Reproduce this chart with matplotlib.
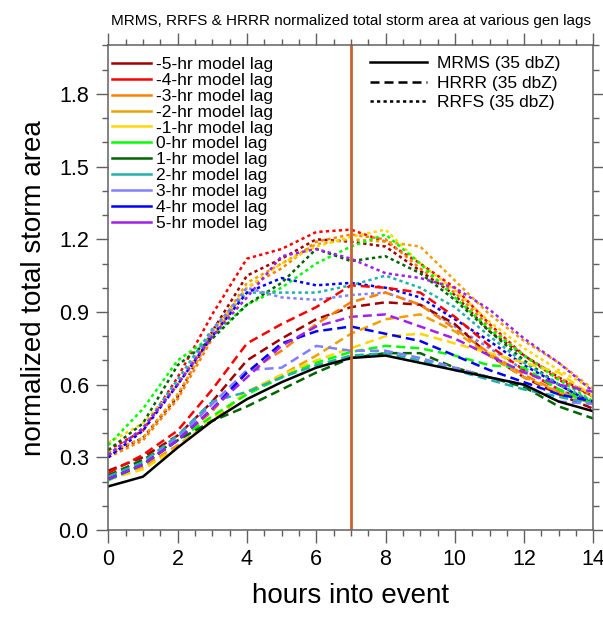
import matplotlib
matplotlib.use("Agg")
import matplotlib.pyplot as plt
from matplotlib.lines import Line2D
from matplotlib.ticker import MultipleLocator
import numpy as np

plt.rcParams['font.family'] = ['Liberation Sans', 'DejaVu Sans']

hours = list(range(15))

lag_labels = ["-5-hr model lag", "-4-hr model lag", "-3-hr model lag", "-2-hr model lag",
              "-1-hr model lag", "0-hr model lag", "1-hr model lag", "2-hr model lag",
              "3-hr model lag", "4-hr model lag", "5-hr model lag"]
lag_colors = ["#a00000", "#ff0000", "#ff8000", "#f0a000", "#ffd700", "#00ff00",
              "#006400", "#20b2aa", "#8080ff", "#0000ff", "#a020f0"]

mrms = [0.18, 0.22, 0.34, 0.45, 0.54, 0.61, 0.67, 0.71, 0.72, 0.69, 0.66, 0.63, 0.60, 0.53, 0.49]

hrrr_m5 = [0.245, 0.30, 0.39, 0.53, 0.70, 0.79, 0.87, 0.92, 0.94, 0.93, 0.85, 0.72, 0.63, 0.56, 0.50]
hrrr_m4 = [0.235, 0.31, 0.41, 0.58, 0.77, 0.85, 0.92, 1.01, 1.00, 0.98, 0.88, 0.76, 0.66, 0.58, 0.52]
hrrr_m3 = [0.21, 0.27, 0.37, 0.49, 0.65, 0.74, 0.85, 0.94, 0.98, 0.93, 0.83, 0.73, 0.64, 0.57, 0.52]
hrrr_m2 = [0.21, 0.26, 0.35, 0.45, 0.57, 0.64, 0.72, 0.81, 0.87, 0.89, 0.82, 0.72, 0.63, 0.57, 0.52]
hrrr_m1 = [0.21, 0.25, 0.34, 0.46, 0.57, 0.64, 0.70, 0.75, 0.80, 0.81, 0.77, 0.73, 0.69, 0.65, 0.55]
hrrr_p0 = [0.205, 0.27, 0.37, 0.47, 0.56, 0.63, 0.69, 0.735, 0.76, 0.75, 0.72, 0.68, 0.67, 0.58, 0.52]
hrrr_p1 = [0.225, 0.29, 0.37, 0.45, 0.51, 0.58, 0.65, 0.71, 0.73, 0.73, 0.67, 0.63, 0.59, 0.51, 0.46]
hrrr_p2 = [0.22, 0.28, 0.39, 0.53, 0.57, 0.63, 0.68, 0.72, 0.73, 0.70, 0.66, 0.62, 0.58, 0.55, 0.52]
hrrr_p3 = [0.21, 0.27, 0.38, 0.52, 0.66, 0.67, 0.76, 0.74, 0.74, 0.71, 0.67, 0.63, 0.60, 0.53, 0.52]
hrrr_p4 = [0.21, 0.27, 0.37, 0.50, 0.65, 0.77, 0.82, 0.84, 0.81, 0.78, 0.72, 0.66, 0.61, 0.56, 0.53]
hrrr_p5 = [0.21, 0.27, 0.37, 0.50, 0.63, 0.76, 0.84, 0.88, 0.89, 0.84, 0.79, 0.72, 0.65, 0.60, 0.57]

rrfs_m5 = [0.31, 0.38, 0.55, 0.82, 1.05, 1.12, 1.20, 1.19, 1.17, 1.07, 0.97, 0.82, 0.72, 0.63, 0.55]
rrfs_m4 = [0.33, 0.41, 0.63, 0.89, 1.12, 1.16, 1.23, 1.24, 1.19, 1.10, 1.00, 0.85, 0.72, 0.62, 0.55]
rrfs_m3 = [0.30, 0.37, 0.54, 0.79, 1.00, 1.08, 1.19, 1.22, 1.20, 1.08, 0.98, 0.84, 0.72, 0.63, 0.55]
rrfs_m2 = [0.32, 0.38, 0.56, 0.80, 1.02, 1.10, 1.18, 1.20, 1.19, 1.17, 1.03, 0.89, 0.78, 0.69, 0.58]
rrfs_m1 = [0.36, 0.44, 0.60, 0.82, 1.00, 1.10, 1.17, 1.21, 1.24, 1.10, 0.99, 0.86, 0.75, 0.66, 0.58]
rrfs_p0 = [0.35, 0.50, 0.70, 0.80, 0.93, 1.00, 1.10, 1.17, 1.22, 1.10, 0.96, 0.83, 0.72, 0.62, 0.53]
rrfs_p1 = [0.33, 0.44, 0.68, 0.79, 0.93, 1.02, 1.16, 1.11, 1.13, 1.06, 0.95, 0.82, 0.70, 0.60, 0.52]
rrfs_p2 = [0.31, 0.42, 0.62, 0.83, 0.98, 0.98, 0.98, 1.01, 1.05, 1.00, 0.92, 0.80, 0.69, 0.60, 0.53]
rrfs_p3 = [0.31, 0.42, 0.60, 0.82, 1.00, 0.96, 0.95, 0.97, 0.98, 0.93, 0.84, 0.75, 0.66, 0.58, 0.52]
rrfs_p4 = [0.30, 0.41, 0.60, 0.80, 0.98, 1.04, 1.01, 1.02, 1.00, 0.96, 0.87, 0.78, 0.68, 0.60, 0.52]
rrfs_p5 = [0.31, 0.42, 0.60, 0.80, 0.96, 1.13, 1.16, 1.12, 1.06, 1.04, 1.00, 0.91, 0.79, 0.69, 0.57]

hrrr = [hrrr_m5, hrrr_m4, hrrr_m3, hrrr_m2, hrrr_m1, hrrr_p0, hrrr_p1, hrrr_p2, hrrr_p3, hrrr_p4, hrrr_p5]
rrfs = [rrfs_m5, rrfs_m4, rrfs_m3, rrfs_m2, rrfs_m1, rrfs_p0, rrfs_p1, rrfs_p2, rrfs_p3, rrfs_p4, rrfs_p5]

event_hour = 7
title = "MRMS, RRFS & HRRR normalized total storm area at various gen lags"

DASH = (0, (3.6, 2.0))
DOT = (0, (1.3, 1.3))
LW = 1.8

fig = plt.figure(figsize=(6.03, 6.19), dpi=100)
ax = fig.add_axes([0.1796, 0.1438, 0.8046, 0.7827])

for vals, c in zip(rrfs, lag_colors):
    ax.plot(hours, vals, color=c, lw=LW, linestyle=DOT)
for vals, c in zip(hrrr, lag_colors):
    ax.plot(hours, vals, color=c, lw=LW, linestyle=DASH)
ax.plot(hours, mrms, color="black", lw=LW, linestyle="-")
ax.axvline(event_hour, color="#c8642d", lw=2.0)

ax.set_xlim(0, 14)
ax.set_ylim(0, 2.0)
ax.xaxis.set_major_locator(MultipleLocator(2))
ax.xaxis.set_minor_locator(MultipleLocator(0.5))
ax.yaxis.set_major_locator(MultipleLocator(0.3))
ax.yaxis.set_minor_locator(MultipleLocator(0.1))
ax.yaxis.set_major_formatter(plt.FuncFormatter(lambda v, p: f"{v:.1f}"))

spine_c = "#606060"
for s in ax.spines.values():
    s.set_color(spine_c)
    s.set_linewidth(1.1)
ax.tick_params(which="both", direction="out", top=True, right=True, color=spine_c, width=1.0)
ax.tick_params(which="major", length=9, labelsize=15.5, pad=5)
ax.tick_params(which="minor", length=4)

ax.set_xlabel("hours into event", fontsize=20, labelpad=9)
ax.set_ylabel("normalized total storm area", fontsize=20, labelpad=8)
ax.set_title(title, fontsize=11, pad=15)

h1 = [Line2D([], [], color=c, lw=LW) for c in lag_colors]
leg1 = ax.legend(h1, lag_labels, loc="upper left", bbox_to_anchor=(0.007, 0.977),
                 frameon=False, fontsize=12.5, handlelength=2.25, handletextpad=0.28,
                 labelspacing=0.045, borderpad=0, borderaxespad=0)
ax.add_artist(leg1)

h2 = [Line2D([], [], color="black", lw=LW, linestyle="-"),
      Line2D([], [], color="black", lw=LW, linestyle=DASH),
      Line2D([], [], color="black", lw=LW, linestyle=DOT)]
ax.legend(h2, ["MRMS (35 dbZ)", "HRRR (35 dbZ)", "RRFS (35 dbZ)"], loc="upper left",
          bbox_to_anchor=(0.539, 0.978), frameon=False, fontsize=12.5, handlelength=3.3,
          handletextpad=0.55, labelspacing=0.25, borderpad=0, borderaxespad=0)

fig.savefig("out.png", dpi=100)
